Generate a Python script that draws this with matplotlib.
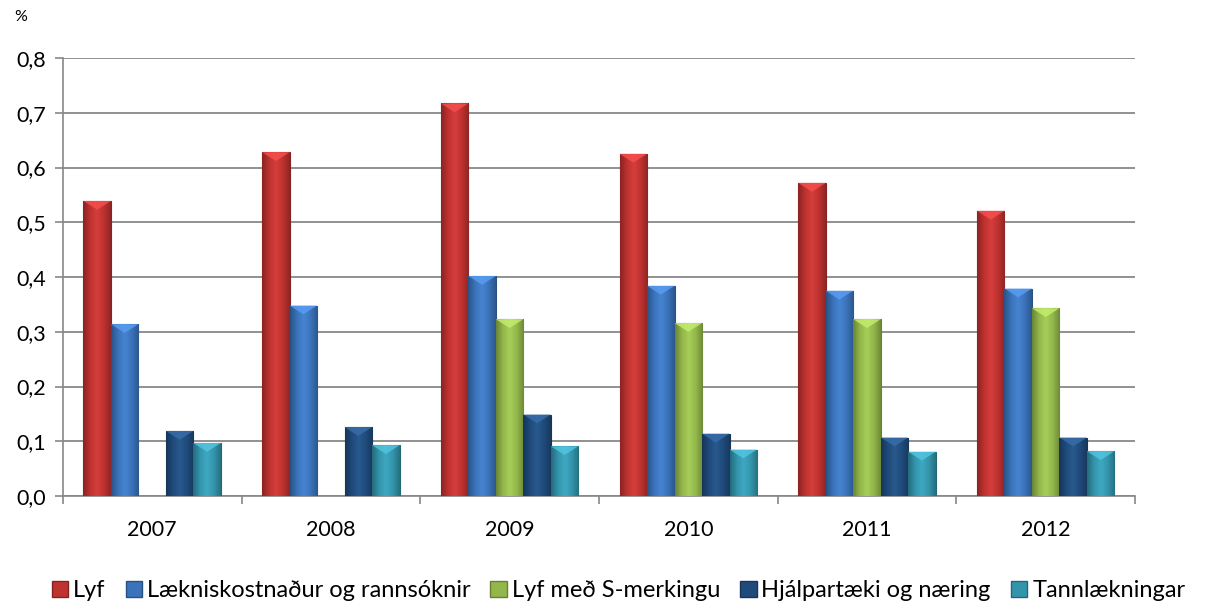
import numpy as np
import matplotlib
matplotlib.use("Agg")
import matplotlib.pyplot as plt
from matplotlib.patches import Patch, Polygon
from matplotlib.colors import LinearSegmentedColormap, to_rgb

# --- gögn ---
ar = ["2007", "2008", "2009", "2010", "2011", "2012"]
flokkar = ["Lyf", "Lækniskostnaður og rannsóknir", "Lyf með S-merkingu",
           "Hjálpartæki og næring", "Tannlækningar"]
lyf = [0.539, 0.628, 0.717, 0.625, 0.572, 0.521]
laekniskostn = [0.314, 0.348, 0.402, 0.384, 0.375, 0.379]
lyf_s = [np.nan, np.nan, 0.323, 0.316, 0.323, 0.343]
hjalpartaeki = [0.119, 0.126, 0.149, 0.114, 0.107, 0.107]
tannl = [0.097, 0.093, 0.091, 0.085, 0.081, 0.082]
yticks = [0.0, 0.1, 0.2, 0.3, 0.4, 0.5, 0.6, 0.7, 0.8]

litir = ["#BE3230", "#3A73BA", "#93B74B", "#1F4B7C", "#3395AC"]
gildi = [lyf, laekniskostn, lyf_s, hjalpartaeki, tannl]

plt.rcParams['font.family'] = ['Lato', 'DejaVu Sans']

fig = plt.figure(figsize=(12.08, 6.14), dpi=100)
ax = fig.add_axes([0.052, 0.192, 0.8876, 0.7135])

x = np.arange(len(ar))
w = 1 / 6.5


def skyggja(c):
    # dekkri á köntum, ljósari í miðju
    r = np.array(to_rgb(c))
    dark = r * 0.72
    light = np.minimum(r * 1.08 + 0.03, 1)
    return LinearSegmentedColormap.from_list("g", [dark, r, light, r, dark * 1.05])


def dekkri(c, f=0.7):
    return tuple(np.array(to_rgb(c)) * f)


grad = np.linspace(0, 1, 64).reshape(1, -1)
for i, (vals, c) in enumerate(zip(gildi, litir)):
    bars = ax.bar(x + (i - 2) * w, vals, width=w, color=c, edgecolor=dekkri(c),
                  linewidth=0.8, zorder=3)
    cm = skyggja(c)
    for b, v in zip(bars, vals):
        if np.isnan(v):
            continue
        x0, bw = b.get_x(), b.get_width()
        im = ax.imshow(grad, cmap=cm, aspect="auto", zorder=3.5,
                       extent=[x0, x0 + bw, 0, v])
        im.set_clip_path(b)
        # ljós þríhyrningur efst (skábrún)
        ljos = tuple(np.minimum(np.array(to_rgb(c)) * 1.2 + 0.08, 1))
        ax.add_patch(Polygon([[x0, v], [x0 + bw, v], [x0 + bw / 2, v - 0.016]],
                             closed=True, facecolor=ljos, edgecolor="none", alpha=0.8, zorder=4))

ax.set_xlim(-0.5, 5.5)
ax.set_ylim(0, 0.8)
ax.set_yticks(yticks)
ax.set_yticklabels([f"{t:.1f}".replace(".", ",") for t in yticks], fontsize=15.5)
ax.set_xticks(x)
ax.set_xticklabels(ar, fontsize=15.5)
ax.set_xticks(np.arange(-0.5, 6, 1), minor=True)
ax.tick_params(axis="x", which="major", length=0, pad=17)
ax.tick_params(axis="x", which="minor", length=6, color="#888888", width=1.2)
ax.tick_params(axis="y", length=6, color="#888888", width=1.2, pad=6)
ax.grid(axis="y", color="#888888", linewidth=1.3, zorder=0)
ax.set_axisbelow(True)
for s in ["top", "right"]:
    ax.spines[s].set_visible(False)
for s in ["left", "bottom"]:
    ax.spines[s].set_color("#888888")
    ax.spines[s].set_linewidth(1.2)

fig.text(0.012, 0.972, "%", fontsize=11.5, va="center", ha="left")

handles = [Patch(facecolor=c, edgecolor=dekkri(c)) for c in litir]
fig.legend(handles, flokkar, loc="center", bbox_to_anchor=(0.512, 0.038), ncol=5,
           frameon=False, fontsize=17, handlelength=0.7, handleheight=0.7,
           handletextpad=0.2, columnspacing=0.85)

fig.savefig("out.png", dpi=100)
